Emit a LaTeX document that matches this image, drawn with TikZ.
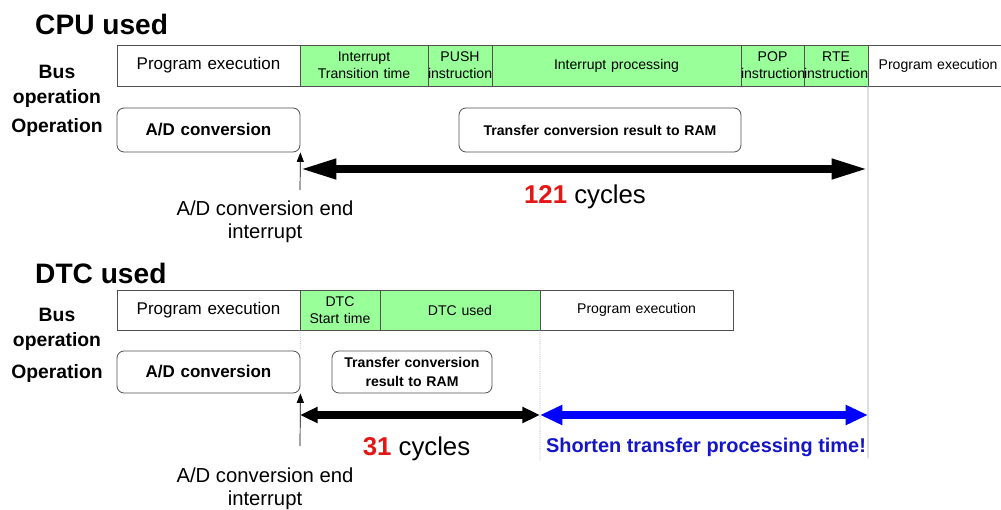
\documentclass[tikz,border=0pt]{standalone}
\usepackage{fontspec}
\setmainfont{Liberation Sans}
\usetikzlibrary{positioning,arrows.meta}

\definecolor{busgreen}{RGB}{153,255,153}
\definecolor{boxline}{RGB}{80,80,80}
\definecolor{cyclered}{RGB}{228,22,22}
\definecolor{shortblue}{RGB}{20,20,200}
\definecolor{arrowblue}{RGB}{0,0,255}
\definecolor{guidegray}{RGB}{165,165,165}

\tikzset{
  seg/.style={draw=boxline, line width=0.7pt, inner sep=0pt, outer sep=0pt,
    text width=#1, minimum height=1.23cm, align=center,
    font=\fontsize{12}{14.5}\selectfont},
  greenseg/.style={seg=#1, fill=busgreen},
  opbox/.style={draw=boxline, line width=0.7pt, rounded corners=6pt,
    inner sep=0pt, text width=#1, minimum height=1.32cm, align=center,
    font=\bfseries\fontsize{12}{16}\selectfont},
  title/.style={anchor=west, inner sep=0pt, font=\bfseries\fontsize{24}{28}\selectfont},
  rowlabel/.style={align=center, inner sep=0pt, font=\bfseries\fontsize{16.5}{21}\selectfont},
  irqlabel/.style={align=center, inner sep=0pt, font=\fontsize{17.3}{19.5}\selectfont},
  cyclelabel/.style={inner sep=0pt, font=\fontsize{22}{26}\selectfont},
  guide/.style={draw=guidegray, line width=0.6pt},
  irqarrow/.style={line width=0.6pt, -{Triangle[length=8pt,width=6pt]}},
}

\begin{document}
\begin{tikzpicture}[x=0.03cm, y=-0.03cm]
    \useasboundingbox (0,0) rectangle (1001,510);

    % --- CPU used ---
    \node[title] (cpuTitle) at (35,24) {CPU used};
    \node[rowlabel] (cpuBusLbl) at (57,86.5) {Bus\\operation};
    \node[rowlabel] (cpuOpLbl) at (57,128) {Operation};

    % bus row
    \node[seg=5.49cm, anchor=west, font=\fontsize{14.5}{16}\selectfont]
        (cpuProgA) at (117,65.5) {Program execution};
    \node[greenseg=3.84cm, right=0pt of cpuProgA] (cpuTrans) {Interrupt\\Transition time};
    \node[greenseg=1.92cm, right=0pt of cpuTrans] (cpuPush) {PUSH\\instruction};
    \node[greenseg=7.47cm, right=0pt of cpuPush] (cpuProc) {Interrupt processing};
    \node[greenseg=1.89cm, right=0pt of cpuProc] (cpuPop) {POP\\instruction};
    \node[greenseg=1.92cm, right=0pt of cpuPop] (cpuRte) {RTE\\instruction};
    \node[seg=4.2cm, right=0pt of cpuRte] (cpuProgB) {Program execution};

    % operation row
    \node[opbox=5.49cm, font=\bfseries\fontsize{14.5}{16}\selectfont]
        (cpuAD) at (208.5,130) {A/D conversion};
    \node[opbox=8.46cm] (cpuXfer) at (600,130) {Transfer conversion result to RAM};

    % guide line and arrows
    \coordinate (guideEnd) at (868,458);
    \draw[guide] (cpuRte.south east) -- (guideEnd);

    \coordinate (cpuIrq) at (300,190);
    \draw[irqarrow] (cpuIrq) -- (cpuAD.south east);

    \coordinate (cpuArrL) at (300,169);
    \coordinate (cpuArrR) at (868,169);
    \draw[line width=6.5pt, {Triangle[length=31pt,width=16pt]}-{Triangle[length=31pt,width=16pt]}]
        (cpuArrL) -- (cpuArrR);

    \node[cyclelabel] (cpuCycles) at (585,197)
        {\textcolor{cyclered}{\bfseries 121} cycles};
    \node[irqlabel] (cpuIrqLbl) at (265,221.5) {A/D conversion end\\interrupt};

    % --- DTC used ---
    \node[title] (dtcTitle) at (35,273) {DTC used};
    \node[rowlabel] (dtcBusLbl) at (57,329.5) {Bus\\operation};
    \node[rowlabel] (dtcOpLbl) at (57,374) {Operation};

    % bus row
    \node[seg=5.49cm, minimum height=1.2cm, anchor=west, font=\fontsize{14.5}{16}\selectfont]
        (dtcProgA) at (117,310) {Program execution};
    \node[greenseg=2.4cm, minimum height=1.2cm, right=0pt of dtcProgA] (dtcStart) {DTC\\Start time};
    \node[greenseg=4.8cm, minimum height=1.2cm, right=0pt of dtcStart] (dtcUsed) {DTC used};
    \node[seg=5.79cm, minimum height=1.2cm, right=0pt of dtcUsed] (dtcProgB) {Program execution};

    % operation row
    \node[opbox=5.49cm, minimum height=1.26cm, font=\bfseries\fontsize{14.5}{16}\selectfont]
        (dtcAD) at (208.5,372) {A/D conversion};
    \node[opbox=4.8cm, minimum height=1.26cm] (dtcXfer) at (412,372)
        {Transfer conversion\\result to RAM};

    % guide lines and arrows
    \draw[guide, densely dotted] (dtcStart.south west) -- (dtcAD.north east);
    \coordinate (dtcGuideEnd) at (540,460);
    \draw[guide, densely dotted] (dtcUsed.south east) -- (dtcGuideEnd);

    \coordinate (dtcIrq) at (300,446);
    \draw[irqarrow] (dtcIrq) -- (dtcAD.south east);

    \coordinate (dtcArrL) at (300,415);
    \coordinate (dtcArrM) at (540,415);
    \coordinate (dtcArrR) at (868,415);
    \draw[line width=6pt, {Triangle[length=15pt,width=13pt]}-{Triangle[length=15pt,width=13pt]}]
        (dtcArrL) -- (dtcArrM);
    \draw[arrowblue, line width=6.5pt, {Triangle[length=19pt,width=16pt]}-{Triangle[length=19pt,width=16pt]}]
        (dtcArrM) -- (dtcArrR);

    \node[cyclelabel] (dtcCycles) at (416.5,449)
        {\textcolor{cyclered}{\bfseries 31} cycles};
    \node[inner sep=0pt, text=shortblue, font=\bfseries\fontsize{17}{20}\selectfont]
        (dtcShort) at (706,447) {Shorten transfer processing time!};
    \node[irqlabel] (dtcIrqLbl) at (265,489) {A/D conversion end\\interrupt};

\end{tikzpicture}
\end{document}
